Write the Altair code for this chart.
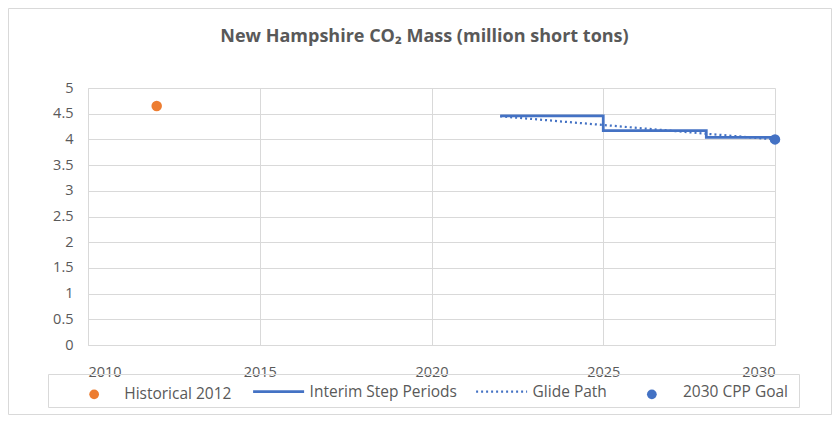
import altair as alt
import pandas as pd

# ---- data ----
series_names = ["Historical 2012", "Interim Step Periods", "Glide Path", "2030 CPP Goal"]
series_colors = ["#ED7D31", "#4472C4", "#4472C4", "#4472C4"]

historical_years = [2012]
historical_values = [4.65]

interim_years = [2022, 2025, 2028, 2030]
interim_values = [4.46, 4.17, 4.04, 4.04]

glide_years = [2022, 2025, 2028, 2030]
glide_values = [4.45, 4.28, 4.11, 4.00]

goal_years = [2030]
goal_values = [4.00]

x_ticks = [2010, 2015, 2020, 2025, 2030]
y_ticks = [0, 0.5, 1, 1.5, 2, 2.5, 3, 3.5, 4, 4.5, 5]

chart_title = "New Hampshire CO\u2082 Mass (million short tons)"

# ---- tables ----
hist_df = pd.DataFrame({"series": series_names[0], "year": historical_years, "value": historical_values})
interim_df = pd.DataFrame({"series": series_names[1], "year": interim_years, "value": interim_values})
glide_df = pd.DataFrame({"series": series_names[2], "year": glide_years, "value": glide_values})
goal_df = pd.DataFrame({"series": series_names[3], "year": goal_years, "value": goal_values})

FONT = "Open Sans"
TEXT = "#595959"
GRID = "#d9d9d9"
W, H = 687, 257
PAD = {"left": 80, "top": 80, "right": 57, "bottom": 70}


def legend(lx, ly, **kw):
    return alt.Legend(
        title=None,
        orient="none",
        legendX=lx,
        legendY=ly,
        padding=0,
        labelFont=FONT,
        labelFontSize=15.5,
        labelColor=TEXT,
        labelLimit=700,
        **kw,
    )


def color(i, leg):
    return alt.Color(
        "series:N",
        scale=alt.Scale(domain=[series_names[i]], range=[series_colors[i]]),
        legend=leg,
    )


x = alt.X(
    "year:Q",
    scale=alt.Scale(domain=[2010, 2030], nice=False, zero=False),
    axis=alt.Axis(values=x_ticks, format="d", title=None, labelPadding=20),
)
y = alt.Y(
    "value:Q",
    scale=alt.Scale(domain=[0, 5], nice=False),
    axis=alt.Axis(values=y_ticks, format="~g", title=None, labelPadding=15),
)

frame = alt.Chart(alt.Data(values=[{}])).mark_rect(
    fillOpacity=0, stroke=GRID, strokeWidth=1
).encode(
    x=alt.value(-PAD["left"] + 0.5),
    x2=alt.value(W + PAD["right"] - 0.5),
    y=alt.value(-PAD["top"] + 0.5),
    y2=alt.value(H + PAD["bottom"] - 0.5),
)

legend_box = alt.Chart(alt.Data(values=[{}])).mark_rect(
    fillOpacity=0, stroke=GRID, strokeWidth=1
).encode(
    x=alt.value(-39.5), x2=alt.value(711.5), y=alt.value(286.5), y2=alt.value(319.5)
)

goal_label = alt.Chart(alt.Data(values=[{"label": series_names[3]}])).mark_text(
    align="left", baseline="middle", font=FONT, fontSize=15.5, color=TEXT
).encode(
    text="label:N", x=alt.value(595), y=alt.value(303.5)
)

interim = alt.Chart(interim_df).mark_line(
    interpolate="step-after", strokeWidth=2.75, opacity=1
).encode(
    x=x, y=y,
    color=color(1, legend(163.6, 276.6, symbolType="stroke", symbolSize=2601,
                          symbolStrokeWidth=2.75, labelOffset=4)),
)

glide = alt.Chart(glide_df).mark_line(
    strokeWidth=2.25, strokeDash=[2, 3], opacity=1
).encode(
    x=x, y=y,
    color=color(2, legend(386.6, 276.6, symbolType="stroke", symbolSize=2601,
                          symbolStrokeWidth=2.25, symbolDash=[2, 3], labelOffset=4)),
)

hist = alt.Chart(hist_df).mark_circle(size=110, opacity=1).encode(
    x=x, y=y,
    color=color(0, legend(-1.6, 298.6, symbolType="circle", symbolSize=95,
                          symbolStrokeWidth=0, labelOffset=22.3)),
)

goal = alt.Chart(goal_df).mark_circle(size=110, opacity=1).encode(
    x=x, y=y,
    color=color(3, legend(-1.6, 298.6, symbolType="circle", symbolSize=95,
                          symbolStrokeWidth=0, symbolOffset=557.7, labelOffset=580,
                          labelExpr="''")),
)

chart = alt.layer(frame, legend_box, goal_label, interim, glide, hist, goal).resolve_scale(
    color="independent"
).resolve_legend(color="independent").properties(
    width=W,
    height=H,
    background="white",
    autosize=alt.AutoSizeParams(type="none"),
    padding=PAD,
    title=alt.Title(
        chart_title,
        font=FONT,
        fontSize=18,
        fontWeight="bold",
        color=TEXT,
        anchor="middle",
        frame="group",
        baseline="alphabetic",
        offset=-52,
        dx=-7,
    ),
).configure_view(stroke=None).configure_axis(
    labelFont=FONT,
    labelFontSize=14.5,
    labelColor=TEXT,
    ticks=False,
    tickSize=0,
    domainColor=GRID,
    gridColor=GRID,
    gridWidth=1,
)

chart.save("out.html", embed_options={"renderer": "svg", "actions": False})
